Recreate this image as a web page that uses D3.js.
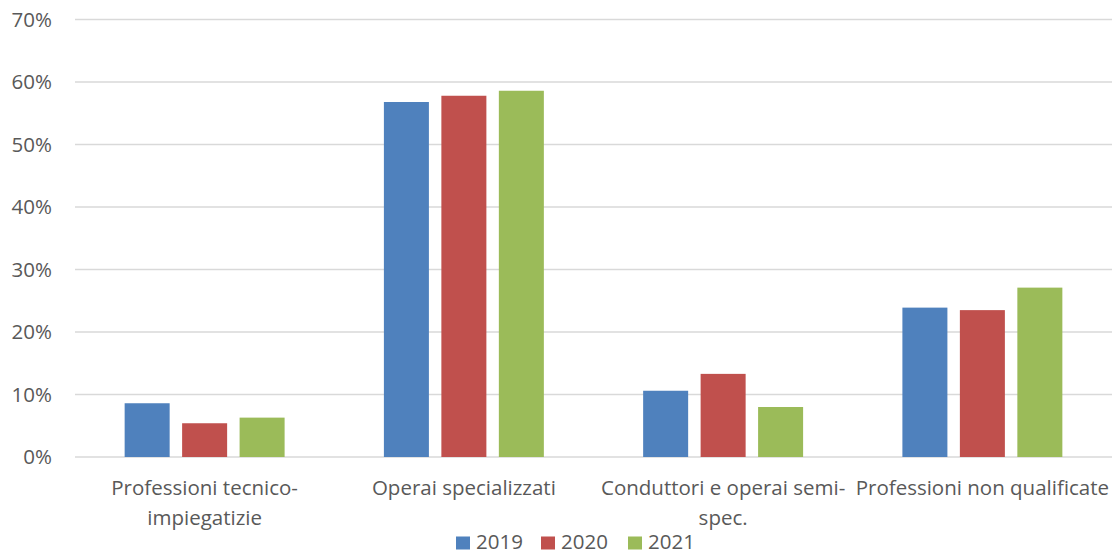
<!DOCTYPE html>
<html><head><meta charset="utf-8">
<script src="https://cdn.jsdelivr.net/npm/d3@7"></script>
<style>body{margin:0;background:#fff}svg{display:block}text{font-family:"Open Sans",Lato,sans-serif;fill:#595959}</style>
</head><body><svg id="c" width="1112" height="555"></svg>
<script>
const categories = [["Professioni tecnico-","impiegatizie"],["Operai specializzati"],["Conduttori e operai semi-","spec."],["Professioni non qualificate"]];
const series = ["2019","2020","2021"];
const v2019 = [0.086, 0.568, 0.106, 0.239];
const v2020 = [0.054, 0.578, 0.133, 0.235];
const v2021 = [0.063, 0.586, 0.080, 0.271];
const yTicks = [0,0.1,0.2,0.3,0.4,0.5,0.6,0.7];
const colors = ["#4f81bd","#c0504d","#9bbb59"];
const values = [v2019, v2020, v2021];

(function(){
const svg = d3.select("#c");
const mLeft = 75, mRight = 1112, mTop = 19.5, mBottom = 457;
const fs = 20.5;
const x = d3.scaleBand().domain(d3.range(categories.length)).range([mLeft,mRight]).paddingInner(0.383).paddingOuter(0.1915);
const xi = d3.scaleBand().domain(series).range([0,x.bandwidth()]).paddingInner(0.217);
const y = d3.scaleLinear().domain([0,0.7]).range([mBottom,mTop]);

svg.append("g").selectAll("line").data(yTicks).join("line")
  .attr("x1",mLeft).attr("x2",mRight).attr("y1",d=>y(d)).attr("y2",d=>y(d))
  .attr("stroke","#d9d9d9").attr("stroke-width",1.3);
svg.append("g").selectAll("text").data(yTicks).join("text")
  .attr("x",52).attr("y",d=>y(d)+7).attr("text-anchor","end").attr("font-size",fs)
  .text(d=>d3.format(".0%")(d));

series.forEach((s,si)=>{
  svg.append("g").selectAll("rect").data(values[si]).join("rect")
    .attr("x",(d,i)=>x(i)+xi(s)).attr("width",xi.bandwidth())
    .attr("y",d=>y(d)).attr("height",d=>mBottom-y(d)).attr("fill",colors[si]);
});

const lab = svg.append("g");
categories.forEach((lines,i)=>{
  const t = lab.append("text").attr("text-anchor","middle").attr("font-size",fs);
  lines.forEach((l,j)=>t.append("tspan").attr("x",x(i)+x.bandwidth()/2).attr("y",495+j*30).text(l));
});

const leg = svg.append("g");
const legX = [456, 541, 628];
series.forEach((s,si)=>{
  leg.append("rect").attr("x",legX[si]).attr("y",536.5).attr("width",14).attr("height",13).attr("fill",colors[si]);
  leg.append("text").attr("x",legX[si]+20).attr("y",549).attr("font-size",fs).text(s);
});
})();
</script></body></html>
